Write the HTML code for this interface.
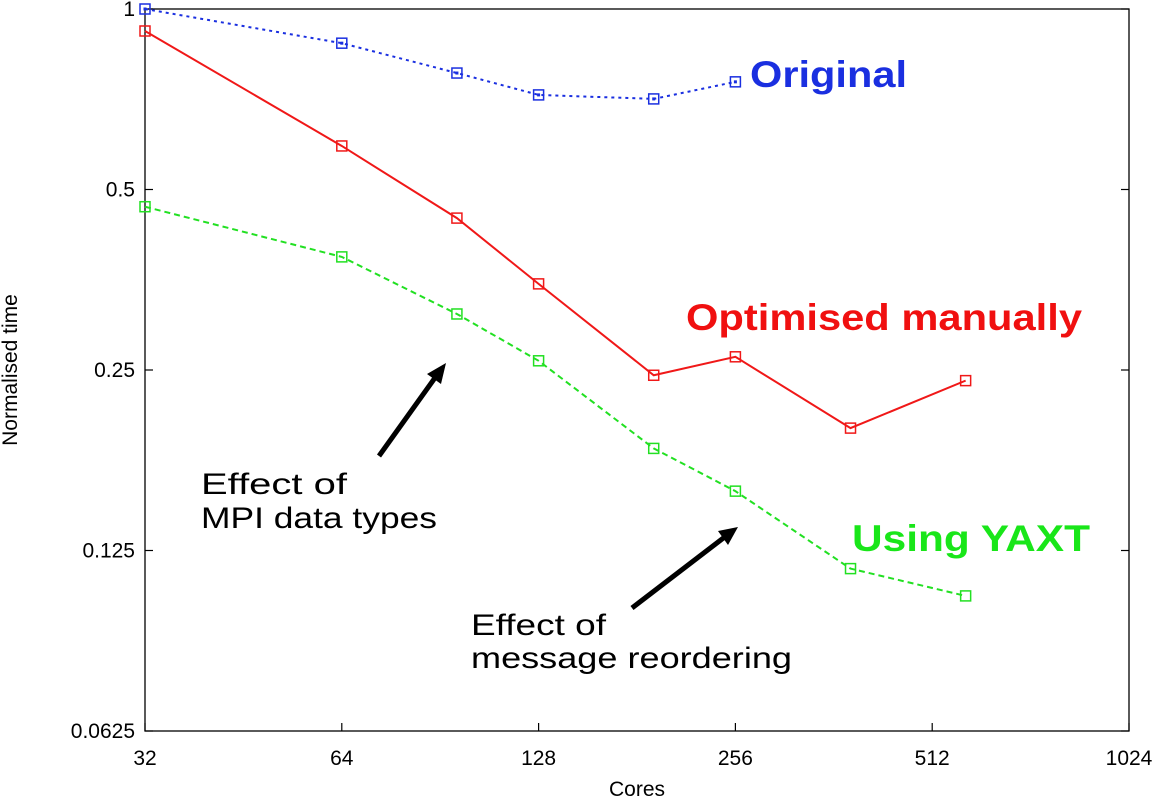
<!DOCTYPE html>
<html><head><meta charset="utf-8"><style>
html,body{margin:0;padding:0;background:#fff;}
svg{display:block;font-family:"Liberation Sans",sans-serif;}
</style></head><body>
<svg id="chart" width="1157" height="798" viewBox="0 0 1157 798">
<rect x="145" y="9" width="984" height="722" fill="none" stroke="#000" stroke-width="1.3"/>
<g id="axes"></g><g id="series"></g>
<text x="637" y="796" font-size="21" text-anchor="middle">Cores</text>
<text transform="translate(17,370) rotate(-90)" font-size="21" text-anchor="middle">Normalised time</text>
<text x="750" y="87" font-size="37" font-weight="bold" fill="#1a2fe0" textLength="157" lengthAdjust="spacingAndGlyphs">Original</text>
<text x="686" y="330" font-size="37" font-weight="bold" fill="#f01010" textLength="396" lengthAdjust="spacingAndGlyphs">Optimised manually</text>
<text x="852" y="551" font-size="37" font-weight="bold" fill="#19e619" textLength="238" lengthAdjust="spacingAndGlyphs">Using YAXT</text>
<g>
<text x="201" y="494" font-size="30" textLength="146" lengthAdjust="spacingAndGlyphs">Effect  of</text>
<text x="201" y="528" font-size="30" textLength="236" lengthAdjust="spacingAndGlyphs">MPI data types</text></g>
<g>
<text x="471" y="635" font-size="30" textLength="135" lengthAdjust="spacingAndGlyphs">Effect of</text>
<text x="471" y="668" font-size="30" textLength="321" lengthAdjust="spacingAndGlyphs">message  reordering</text></g>
<g><line x1="379" y1="456" x2="437" y2="375" stroke="#000" stroke-width="5"/><polygon points="446,363 427,374 441,384" fill="#000"/></g>
<g><line x1="632" y1="608" x2="726" y2="536" stroke="#000" stroke-width="5"/><polygon points="738,527 718,531 728,545" fill="#000"/></g>
</svg>
<script>
const xTicks=[32,64,128,256,512,1024];
const yTicks=[1,0.5,0.25,0.125,0.0625];
const yTickLabels=["1","0.5","0.25","0.125","0.0625"];
const coresOriginal=[32,64,96,128,192,256];
const original=[1,0.877,0.782,0.719,0.708,0.756];
const coresOther=[32,64,96,128,192,256,384,576];
const optimised=[0.919,0.591,0.448,0.348,0.245,0.263,0.200,0.240];
const yaxt=[0.468,0.386,0.310,0.259,0.185,0.157,0.1166,0.105];
const NS="http://www.w3.org/2000/svg";
const L=145,R=1129,T=9,B=731;
function xs(v){return L+(Math.log2(v)-5)/5*(R-L);}
function ys(v){return T+(-Math.log2(v))/4*(B-T);}
function mk(tag,attrs,parent){const e=document.createElementNS(NS,tag);for(const k in attrs)e.setAttribute(k,attrs[k]);parent.appendChild(e);return e;}
const axes=document.getElementById('axes');
xTicks.forEach(v=>{
 const x=xs(v);
 const t=mk('line',{x1:x,x2:x,y1:B,y2:B-8,stroke:'#000','stroke-width':1.2},axes);
 
 
 const l=mk('text',{x:x,y:B+34,'font-size':21,'text-anchor':'middle'},axes);
 l.textContent=v;
 
 
});
yTicks.forEach((v,i)=>{
 const y=ys(v);
 const t=mk('line',{x1:L,x2:L+8,y1:y,y2:y,stroke:'#000','stroke-width':1.2},axes);
 
 
 const t2=mk('line',{x1:R,x2:R-8,y1:y,y2:y,stroke:'#000','stroke-width':1.2},axes);
 
 
 const l=mk('text',{x:L-10,y:y+7,'font-size':21,'text-anchor':'end'},axes);
 l.textContent=yTickLabels[i];
 
 
});
const sg=document.getElementById('series');
function series(xsArr,vals,color,dash,name,dot){
 const g=mk('g',{},sg);
 
 
 const pts=xsArr.map((c,i)=>xs(c)+','+ys(vals[i])).join(' ');
 const pl=mk('polyline',{points:pts,fill:'none',stroke:color,'stroke-width':2,'stroke-dasharray':dash},g);
 
 
 xsArr.forEach((c,i)=>{
  const x=xs(c),y=ys(vals[i]);
  const r=mk('rect',{x:x-5,y:y-5,width:10,height:10,fill:'none',stroke:color,'stroke-width':1.5},g);
  
  
  if(dot){const d=mk('rect',{x:x-1.5,y:y-1.5,width:3,height:3,fill:color},g);
  
  }
 });
}
series(coresOther,yaxt,'#22e022','6,4','series-yaxt',false);
series(coresOther,optimised,'#f01818','none','series-optimised',false);
series(coresOriginal,original,'#1a2fe0','3,4','series-original',true);
</script>
</body></html>
